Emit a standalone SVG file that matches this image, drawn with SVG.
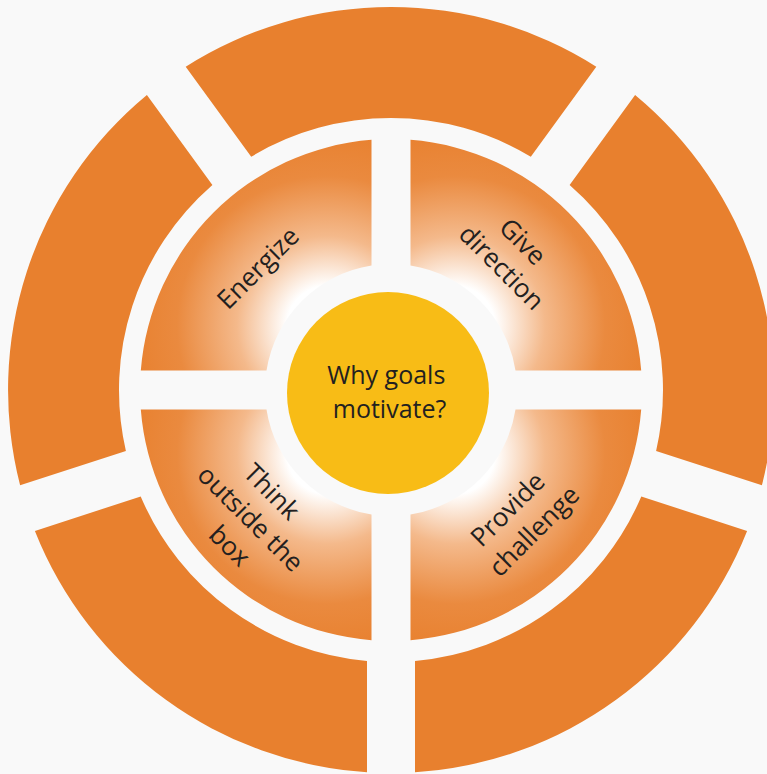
<svg xmlns="http://www.w3.org/2000/svg" width="767" height="774" viewBox="0 0 767 774">
  <defs>
    <radialGradient id="g-ul" gradientUnits="userSpaceOnUse" cx="327" cy="326" r="200">
      <stop offset="0.2" stop-color="#FFFFFF"/>
      <stop offset="0.45" stop-color="#F4B98B"/>
      <stop offset="0.75" stop-color="#EA8A3F"/>
      <stop offset="1" stop-color="#E8802E"/>
    </radialGradient>
    <radialGradient id="g-ur" href="#g-ul" cx="455" cy="326"/>
    <radialGradient id="g-lr" href="#g-ul" cx="455" cy="454"/>
    <radialGradient id="g-ll" href="#g-ul" cx="327" cy="454"/>
  </defs>
  <style>
    .seg { fill: #E8802E; }
    .hub { fill: #F8BC16; }
    .lbl { font-family: "Open Sans", "Noto Sans", "Liberation Sans", sans-serif; font-size: 26px; fill: #231F20; text-anchor: middle; }
    .hubtxt { font-size: 25px; }
  </style>
  <rect width="767" height="774" fill="#F9F9F9"/>

  <g id="outer-ring">
    <path id="seg-top" class="seg" d="M185.7,66.7 A383,383 0 0 1 596.3,66.7 L530.8,156.7 A272,272 0 0 0 251.2,156.7 Z"/>
    <path id="seg-upper-right" class="seg" d="M635.1,94.9 A383,383 0 0 1 761.9,485.3 L656.1,450.9 A272,272 0 0 0 569.6,184.9 Z"/>
    <path id="seg-lower-right" class="seg" d="M747.1,530.9 A383,383 0 0 1 415,772.2 L415,660.9 A272,272 0 0 0 641.3,496.5 Z"/>
    <path id="seg-lower-left" class="seg" d="M367,772.2 A383,383 0 0 1 34.9,530.9 L140.7,496.5 A272,272 0 0 0 367,660.9 Z"/>
    <path id="seg-left" class="seg" d="M20.1,485.3 A383,383 0 0 1 146.9,94.9 L212.4,184.9 A272,272 0 0 0 125.9,450.9 Z"/>
  </g>

  <g id="energize">
    <path fill="url(#g-ul)" d="M140.8,370.5 A251,251 0 0 1 371.5,139.8 L371.5,265.5 A126,126 0 0 0 266.5,370.5 Z"/>
    <text class="lbl" transform="translate(258,268) rotate(-45)" x="0" y="9">Energize</text>
  </g>

  <g id="give-direction">
    <path fill="url(#g-ur)" d="M410.5,139.8 A251,251 0 0 1 641.2,370.5 L515.5,370.5 A126,126 0 0 0 410.5,265.5 Z"/>
    <text class="lbl" transform="translate(513,256) rotate(45)">
      <tspan x="0" y="-8">Give</tspan>
      <tspan x="0" y="25">direction</tspan>
    </text>
  </g>

  <g id="provide-challenge">
    <path fill="url(#g-lr)" d="M641.2,409.5 A251,251 0 0 1 410.5,640.2 L410.5,514.5 A126,126 0 0 0 515.5,409.5 Z"/>
    <text class="lbl" transform="translate(522,519) rotate(-45)">
      <tspan x="0" y="-8">Provide</tspan>
      <tspan x="0" y="26">challenge</tspan>
    </text>
  </g>

  <g id="think-outside">
    <path fill="url(#g-ll)" d="M371.5,640.2 A251,251 0 0 1 140.8,409.5 L266.5,409.5 A126,126 0 0 0 371.5,514.5 Z"/>
    <text class="lbl" transform="translate(253,521) rotate(45)">
      <tspan x="-4" y="-25">Think</tspan>
      <tspan x="0" y="9">outside the</tspan>
      <tspan x="1" y="43">box</tspan>
    </text>
  </g>

  <g id="center">
    <circle class="hub" cx="388" cy="393" r="101"/>
    <text class="lbl hubtxt">
      <tspan x="389.5" y="384">Why goals</tspan>
      <tspan x="389.5" y="418">motivate?</tspan>
    </text>
  </g>
</svg>
